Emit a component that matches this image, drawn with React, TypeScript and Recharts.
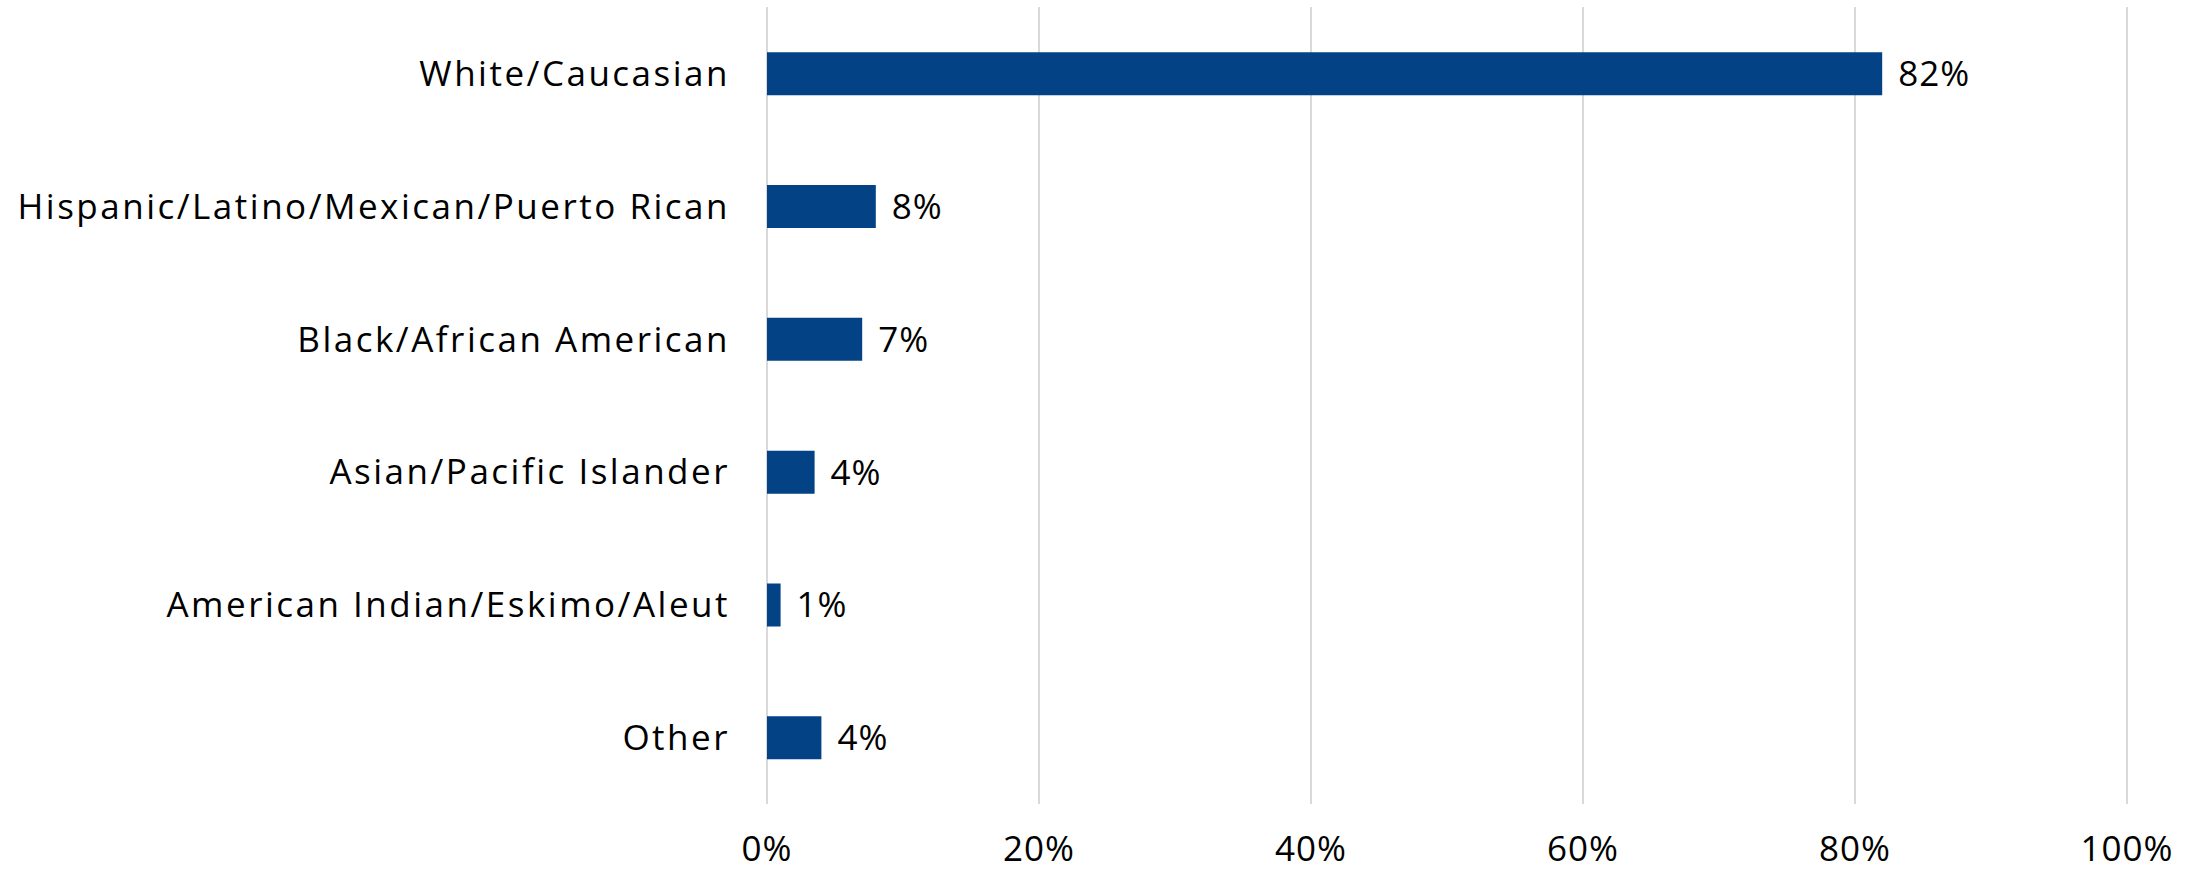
import { Bar, BarChart, XAxis, YAxis, CartesianGrid, LabelList } from "recharts";

const categories = [
  "White/Caucasian",
  "Hispanic/Latino/Mexican/Puerto Rican",
  "Black/African American",
  "Asian/Pacific Islander",
  "American Indian/Eskimo/Aleut",
  "Other",
];
const shares = [82, 8, 7, 3.5, 1, 4];
const xTicks = [0, 20, 40, 60, 80, 100];

const data = categories.map((name, i) => ({ name, value: shares[i] }));

const font = "'Open Sans', sans-serif";
const textStyle = { fill: "#000", fontSize: 35, fontFamily: font, letterSpacing: 2.5 };

export default function App() {
  return (
    <div style={{ position: "absolute", left: 0, top: 0, background: "#fff" }}>
      <BarChart
        width={2200}
        height={870}
        data={data}
        layout="vertical"
        margin={{ top: 7, right: 73, bottom: 0, left: 0 }}
        barCategoryGap="34%"
      >
        <CartesianGrid horizontal={false} stroke="#d9d9d9" strokeWidth={2} />
        <XAxis
          type="number"
          domain={[0, 100]}
          ticks={xTicks}
          tickFormatter={(v: number) => `${v}%`}
          axisLine={false}
          tickLine={false}
          tickSize={0}
          tickMargin={32}
          height={66}
          tick={{ ...textStyle, letterSpacing: 1 }}
        />
        <YAxis
          type="category"
          dataKey="name"
          width={767}
          axisLine={false}
          tickLine={false}
          tickSize={0}
          tickMargin={37}
          interval={0}
          tick={textStyle}
        />
        <Bar dataKey="value" fill="#034284" isAnimationActive={false}>
          <LabelList
            dataKey="value"
            position="right"
            offset={16}
            formatter={(v: number) => `${Math.round(v)}%`}
            style={{ ...textStyle, letterSpacing: 1 }}
          />
        </Bar>
      </BarChart>
    </div>
  );
}
